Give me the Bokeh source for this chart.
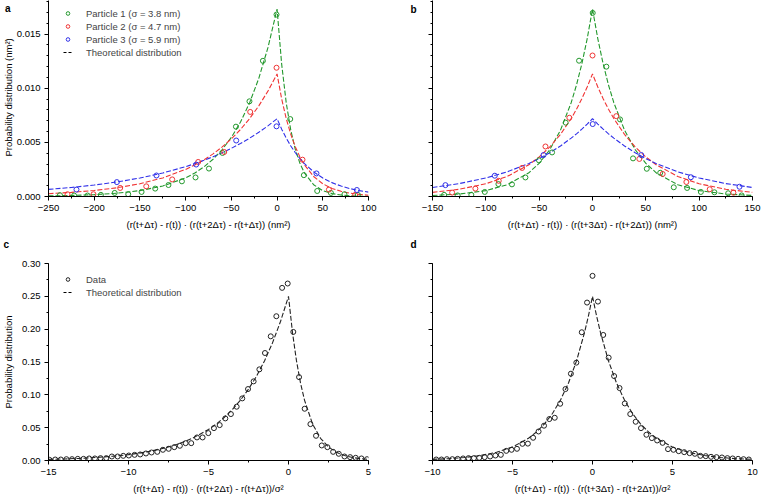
import numpy as np
from bokeh.plotting import figure
from bokeh.layouts import column, row
from bokeh.models import FixedTicker, Legend, LegendItem, Range1d, Title, LinearAxis
from bokeh.embed import file_html
from bokeh.resources import INLINE

FONT = "Liberation Sans"
GREEN, RED, BLUE = "#22982c", "#f03434", "#3030e8"

# ---------------- data ----------------
# Panel a: adjacent displacements, three particles (nm^2)
a_p1_x = [-237.5, -222.0, -207.3, -192.7, -177.6, -162.8, -148.2, -133.3, -118.8, -104.1, -89.2, -74.5,
          -59.7, -45.0, -30.2, -15.5, -0.6, 14.4, 29.3, 43.9, 58.9, 73.7, 88.4]
a_p1_y = [0.00012, 0.00009, 0.00009, 0.00015, 0.00033, 0.00021, 0.00042, 0.00073, 0.00106, 0.00140, 0.00176,
          0.00258, 0.00402, 0.00645, 0.00879, 0.01253, 0.01680, 0.00715, 0.00197, 0.00051, 0.00033, 0.00021, 0.00015]
a_p2_x = [-229.2, -200.8, -171.6, -143.1, -114.7, -86.3, -57.8, -29.4, -0.6, 27.8, 56.7, 85.4]
a_p2_y = [0.00021, 0.00021, 0.00079, 0.00094, 0.00158, 0.00319, 0.00411, 0.00781, 0.01189, 0.00340, 0.00064, 0.00015]
a_p3_x = [-219.4, -175.2, -131.9, -88.5, -44.7, -0.6, 43.1, 87.3]
a_p3_y = [0.00064, 0.00133, 0.00194, 0.00295, 0.00517, 0.00648, 0.00213, 0.00060]

a_curve_x = [-250, -225, -200, -175, -150, -125, -100, -90, -80, -70, -60, -50, -40, -30, -20, -10, 0,
             5, 10, 15, 20, 25, 30, 40, 50, 60, 70, 80, 90, 100]
a_curve_p1 = [0.000054, 0.000096, 0.000171, 0.000305, 0.000543, 0.000966, 0.001722, 0.002167, 0.002731, 0.003440,
              0.004333, 0.005458, 0.006876, 0.008661, 0.010909, 0.013743, 0.017310,
              0.012244, 0.008661, 0.006126, 0.004333, 0.003065, 0.002168, 0.001085, 0.000543, 0.000271,
              0.000136, 0.000068, 0.000034, 0.000017]
a_curve_p2 = [0.000260, 0.000380, 0.000553, 0.000807, 0.001177, 0.001716, 0.002503, 0.002911, 0.003385, 0.003936,
              0.004577, 0.005322, 0.006189, 0.007197, 0.008370, 0.009733, 0.011318,
              0.009025, 0.007197, 0.005740, 0.004577, 0.003650, 0.002911, 0.001851, 0.001177, 0.000748,
              0.000476, 0.000303, 0.000193, 0.000122]
a_curve_p3 = [0.000655, 0.000833, 0.001058, 0.001344, 0.001708, 0.002170, 0.002757, 0.003034, 0.003339, 0.003674,
              0.004043, 0.004450, 0.004897, 0.005389, 0.005930, 0.006526, 0.007182,
              0.006221, 0.005389, 0.004668, 0.004043, 0.003502, 0.003034, 0.002276, 0.001708, 0.001281,
              0.000961, 0.000721, 0.000541, 0.000406]

# Panel b: non-adjacent displacements (nm^2)
b_p1_x = [-139.1, -126.4, -113.6, -101.0, -88.2, -75.5, -62.9, -50.2, -37.9, -25.1, -12.6, 0.2, 13.0, 25.8,
          38.0, 50.9, 63.5, 76.2, 88.7, 101.6, 114.3, 127.2, 139.8]
b_p1_y = [0.00015, 0.00010, 0.00015, 0.00042, 0.00115, 0.00112, 0.00176, 0.00334, 0.00407, 0.00682, 0.01254,
          0.01695, 0.01199, 0.00712, 0.00352, 0.00256, 0.00219, 0.00085, 0.00079, 0.00042, 0.00039, 0.00030, 0.00010]
b_p2_x = [-131.6, -109.8, -87.9, -66.0, -44.1, -21.7, 0.0, 22.3, 43.9, 65.8, 88.0, 109.9, 132.1]
b_p2_y = [0.00036, 0.00073, 0.00145, 0.00264, 0.00462, 0.00727, 0.01302, 0.00742, 0.00347, 0.00208, 0.00134,
          0.00067, 0.00035]
b_p3_x = [-137.9, -91.6, -45.9, 0.2, 45.7, 92.2, 137.8]
b_p3_y = [0.00105, 0.00192, 0.00383, 0.00669, 0.00383, 0.00178, 0.00090]

b_curve_x = [-150, -125, -100, -80, -60, -50, -40, -30, -20, -15, -10, -5, 0,
             5, 10, 15, 20, 30, 40, 50, 60, 80, 100, 125, 150]
b_curve_p1 = [0.000096, 0.000228, 0.000543, 0.001085, 0.002167, 0.003065, 0.004333, 0.006126, 0.008661, 0.010298,
              0.012244, 0.014558, 0.017310, 0.014558, 0.012244, 0.010298, 0.008661, 0.006126, 0.004333, 0.003065,
              0.002167, 0.001085, 0.000543, 0.000228, 0.000096]
b_curve_p2 = [0.000380, 0.000668, 0.001177, 0.001851, 0.002911, 0.003650, 0.004577, 0.005740, 0.007197, 0.008060,
              0.009025, 0.010107, 0.011318, 0.010107, 0.009025, 0.008060, 0.007197, 0.005740, 0.004577, 0.003650,
              0.002911, 0.001851, 0.001177, 0.000668, 0.000380]
b_curve_p3 = [0.000833, 0.001193, 0.001708, 0.002276, 0.003034, 0.003502, 0.004043, 0.004668, 0.005389, 0.005790,
              0.006221, 0.006684, 0.007182, 0.006684, 0.006221, 0.005790, 0.005389, 0.004668, 0.004043, 0.003502,
              0.003034, 0.002276, 0.001708, 0.001193, 0.000833]

# Panel c: adjacent displacements, pooled and normalised by sigma^2
c_x = [-14.94, -14.58, -14.23, -13.88, -13.53, -13.17, -12.81, -12.46, -12.10, -11.75, -11.39, -11.04, -10.68,
       -10.33, -9.98, -9.62, -9.27, -8.91, -8.56, -8.20, -7.85, -7.49, -7.14, -6.79, -6.43, -6.08, -5.72, -5.37,
       -5.01, -4.66, -4.30, -3.95, -3.60, -3.24, -2.89, -2.53, -2.18, -1.82, -1.47, -1.11, -0.76, -0.40, -0.05,
       0.30, 0.66, 1.01, 1.37, 1.72, 2.08, 2.43, 2.79, 3.14, 3.50, 3.85, 4.20, 4.56, 4.91]
c_y = [0.0010, 0.0015, 0.0015, 0.0020, 0.0020, 0.0025, 0.0025, 0.0031, 0.0031, 0.0036, 0.0036, 0.0061, 0.0061,
       0.0071, 0.0076, 0.0086, 0.0092, 0.0107, 0.0122, 0.0132, 0.0163, 0.0178, 0.0203, 0.0224, 0.0264, 0.0264,
       0.0351, 0.0351, 0.0417, 0.0493, 0.0539, 0.0641, 0.0707, 0.0819, 0.0946, 0.1088, 0.1205, 0.1388, 0.1637,
       0.1891, 0.2197, 0.2629, 0.2695, 0.1958, 0.1270, 0.0788, 0.0554, 0.0376, 0.0229, 0.0203, 0.0132, 0.0102,
       0.0061, 0.0051, 0.0041, 0.0031, 0.0020]
c_curve_x = [-15, -14, -13, -12, -11, -10, -9, -8, -7, -6, -5, -4.5, -4, -3.5, -3, -2.5, -2, -1.5, -1, -0.5, 0,
             0.25, 0.5, 0.75, 1, 1.5, 2, 2.5, 3, 3.5, 4, 4.5, 5]
c_curve_y = [0.001684, 0.002351, 0.003281, 0.004579, 0.006390, 0.008918, 0.012447, 0.017371, 0.024243, 0.033834,
             0.047219, 0.055783, 0.065899, 0.077851, 0.091970, 0.108650, 0.128354, 0.151633, 0.179133, 0.211620,
             0.250000, 0.194700, 0.151633, 0.118092, 0.091970, 0.055783, 0.033834, 0.020521, 0.012447, 0.007549,
             0.004579, 0.002777, 0.001684]

# Panel d: non-adjacent displacements, pooled and normalised by sigma^2
d_x = [-9.77, -9.44, -9.10, -8.76, -8.43, -8.09, -7.75, -7.41, -7.08, -6.74, -6.40, -6.07, -5.73, -5.39, -5.06,
       -4.72, -4.38, -4.04, -3.71, -3.37, -3.03, -2.70, -2.36, -2.02, -1.69, -1.35, -1.01, -0.67, -0.34, 0.0,
       0.34, 0.67, 1.01, 1.35, 1.69, 2.02, 2.36, 2.70, 3.03, 3.37, 3.71, 4.04, 4.38, 4.72, 5.06, 5.39, 5.73,
       6.07, 6.40, 6.74, 7.08, 7.41, 7.75, 8.09, 8.43, 8.76, 9.10, 9.44, 9.77]
d_y = [0.0015, 0.0015, 0.0020, 0.0020, 0.0025, 0.0031, 0.0036, 0.0036, 0.0041, 0.0051, 0.0061, 0.0076, 0.0086,
       0.0147, 0.0163, 0.0178, 0.0254, 0.0257, 0.0346, 0.0442, 0.0530, 0.0631, 0.0651, 0.0864, 0.1088, 0.1322,
       0.1490, 0.1953, 0.2405, 0.2812, 0.2420, 0.1912, 0.1566, 0.1286, 0.1103, 0.0869, 0.0707, 0.0590, 0.0493,
       0.0392, 0.0341, 0.0305, 0.0269, 0.0173, 0.0163, 0.0142, 0.0127, 0.0112, 0.0102, 0.0071, 0.0066, 0.0056,
       0.0051, 0.0046, 0.0036, 0.0031, 0.0025, 0.0020, 0.0015]
d_curve_x = [-10, -9, -8, -7, -6, -5, -4, -3.5, -3, -2.5, -2, -1.5, -1, -0.5, -0.25, 0,
             0.25, 0.5, 1, 1.5, 2, 2.5, 3, 3.5, 4, 5, 6, 7, 8, 9, 10]
d_curve_y = [0.001684, 0.002777, 0.004579, 0.007549, 0.012447, 0.020521, 0.033834, 0.043443, 0.055783, 0.071626,
             0.091970, 0.118092, 0.151633, 0.194700, 0.220624, 0.250000, 0.220624, 0.194700, 0.151633, 0.118092,
             0.091970, 0.071626, 0.055783, 0.043443, 0.033834, 0.020521, 0.012447, 0.007549, 0.004579, 0.002777,
             0.001684]

# tick labels
a_xticks = [-250, -200, -150, -100, -50, 0, 50, 100]
a_xlabels = ["\u2212250", "\u2212200", "\u2212150", "\u2212100", "\u221250", "0", "50", "100"]
b_xticks = [-150, -100, -50, 0, 50, 100, 150]
b_xlabels = ["\u2212150", "\u2212100", "\u221250", "0", "50", "100", "150"]
ab_yticks = [0.0, 0.005, 0.01, 0.015]
ab_ylabels = ["0.000", "0.005", "0.010", "0.015"]
c_xticks = [-15, -10, -5, 0, 5]
c_xlabels = ["\u221215", "\u221210", "\u22125", "0", "5"]
d_xticks = [-10, -5, 0, 5, 10]
d_xlabels = ["\u221210", "\u22125", "0", "5", "10"]
cd_yticks = [0.0, 0.05, 0.10, 0.15, 0.20, 0.25, 0.30]
cd_ylabels = ["0.00", "0.05", "0.10", "0.15", "0.20", "0.25", "0.30"]

legend_a = ["Particle 1 (\u03c3 = 3.8 nm)", "Particle 2 (\u03c3 = 4.7 nm)", "Particle 3 (\u03c3 = 5.9 nm)",
            "Theoretical distribution"]
legend_c = ["Data", "Theoretical distribution"]

X_TITLE_A = "(r(t+\u0394\u03c4) - r(t)) \u00b7 (r(t+2\u0394\u03c4) - r(t+\u0394\u03c4)) (nm\u00b2)"
X_TITLE_B = "(r(t+\u0394\u03c4) - r(t)) \u00b7 (r(t+3\u0394\u03c4) - r(t+2\u0394\u03c4)) (nm\u00b2)"
X_TITLE_C = "(r(t+\u0394\u03c4) - r(t)) \u00b7 (r(t+2\u0394\u03c4) - r(t+\u0394\u03c4))/\u03c3\u00b2"
X_TITLE_D = "(r(t+\u0394\u03c4) - r(t)) \u00b7 (r(t+3\u0394\u03c4) - r(t+2\u0394\u03c4))/\u03c3\u00b2"
Y_TITLE_A = "Probability distribution (nm\u00b2)"
Y_TITLE_C = "Probability distribution"


def make_fig(width, height, xr, yr, left, right, top, bottom):
    p = figure(width=width, height=height, x_range=Range1d(*xr), y_range=Range1d(*yr),
               output_backend="svg", toolbar_location=None,
               min_border_left=left, min_border_right=right, min_border_top=top, min_border_bottom=bottom)
    p.grid.visible = False
    p.outline_line_color = None
    p.background_fill_color = "white"
    p.border_fill_color = "white"
    for ax in (p.xaxis[0], p.yaxis[0]):
        ax.axis_line_color = "black"
        ax.axis_line_width = 1
        ax.major_tick_line_color = "black"
        ax.minor_tick_line_color = "black"
        ax.major_tick_out = 4
        ax.major_tick_in = 0
        ax.minor_tick_out = 2
        ax.minor_tick_in = 0
        ax.major_label_text_font = FONT
        ax.major_label_text_font_size = "9.5px"
        ax.major_label_text_color = "black"
        ax.major_label_standoff = 4
        ax.axis_label_text_font = FONT
        ax.axis_label_text_font_size = "9.5px"
        ax.axis_label_text_font_style = "normal"
        ax.axis_label_text_color = "black"
        ax.axis_label_standoff = 5
    return p


def set_ticks(axis, ticks, minor, labels):
    axis.ticker = FixedTicker(ticks=ticks, minor_ticks=minor)
    axis.major_label_overrides = dict(zip(ticks, labels))


def letter_axis(letter, at, standoff):
    # bare outer axis that only carries the bold panel letter beside the top of the frame
    return LinearAxis(ticker=FixedTicker(ticks=[at], minor_ticks=[]),
                      major_label_overrides={at: letter}, axis_line_color=None,
                      major_tick_line_color=None, minor_tick_line_color=None,
                      major_tick_out=0, major_tick_in=0, minor_tick_out=0, minor_tick_in=0,
                      major_label_text_font=FONT, major_label_text_font_size="10px",
                      major_label_text_font_style="bold", major_label_text_color="black",
                      major_label_standoff=standoff)


def letter_below(letter, offset):
    # panel letter for the lower row, hung under the upper row's axis title
    return Title(text=letter, align="left", offset=offset, vertical_align="top", standoff=13,
                 text_font=FONT, text_font_size="10px", text_font_style="bold", text_color="black")


DASH = "5 2"
ab_minor_y = list(np.round(np.arange(0, 0.0185, 0.001), 4))


def legend_for(items, loc):
    return Legend(items=items, location=loc, border_line_color=None, background_fill_alpha=0,
                  label_text_font=FONT, label_text_font_size="9.5px", glyph_width=9, glyph_height=12,
                  label_height=12, label_standoff=14, spacing=1, padding=0, margin=0)


# ---------------- panel a ----------------
pa = make_fig(380, 258, (-250, 100), (0, 0.0181), 48, 12, 0, 60)
set_ticks(pa.xaxis[0], a_xticks, list(range(-250, 101, 25)), a_xlabels)
set_ticks(pa.yaxis[0], ab_yticks, ab_minor_y, ab_ylabels)
pa.xaxis.axis_label = X_TITLE_A
for cy, col in ((a_curve_p1, GREEN), (a_curve_p2, RED), (a_curve_p3, BLUE)):
    pa.line(a_curve_x, cy, line_color=col, line_width=1.1, line_dash=DASH)
ra1 = pa.scatter(a_p1_x, a_p1_y, marker="circle", size=5, fill_color=None, line_color=GREEN, line_width=1)
ra2 = pa.scatter(a_p2_x, a_p2_y, marker="circle", size=5, fill_color=None, line_color=RED, line_width=1)
ra3 = pa.scatter(a_p3_x, a_p3_y, marker="circle", size=5, fill_color=None, line_color=BLUE, line_width=1)
# legend key for the dashed theory curves (kept outside the visible range)
ra4 = pa.line([-400, -390], [0.01, 0.01], line_color="black", line_width=1, line_dash="3 2")
pa.add_layout(legend_for([LegendItem(label=t, renderers=[r]) for t, r in zip(legend_a, [ra1, ra2, ra3, ra4])],
                         (15, 138)))
pa.add_layout(Title(text=Y_TITLE_A, align="left", offset=40, text_font=FONT, text_font_size="9.5px",
                    text_font_style="normal", text_color="black", standoff=0), "left")
# outermost letter axis; the negative standoff pulls the letter back over the title column
pa.add_layout(letter_axis("a", 0.0178, -10), "left")
pa.add_layout(letter_below("c", -45), "below")

# ---------------- panel b ----------------
pb = make_fig(381, 258, (-150, 150), (0, 0.0181), 52, 9, 0, 60)
set_ticks(pb.xaxis[0], b_xticks, list(range(-150, 151, 25)), b_xlabels)
set_ticks(pb.yaxis[0], ab_yticks, ab_minor_y, ["" for _ in ab_yticks])
pb.xaxis.axis_label = X_TITLE_B
for cy, col in ((b_curve_p1, GREEN), (b_curve_p2, RED), (b_curve_p3, BLUE)):
    pb.line(b_curve_x, cy, line_color=col, line_width=1.1, line_dash=DASH)
pb.scatter(b_p1_x, b_p1_y, marker="circle", size=5, fill_color=None, line_color=GREEN, line_width=1)
pb.scatter(b_p2_x, b_p2_y, marker="circle", size=5, fill_color=None, line_color=RED, line_width=1)
pb.scatter(b_p3_x, b_p3_y, marker="circle", size=5, fill_color=None, line_color=BLUE, line_width=1)
pb.add_layout(letter_axis("b", 0.0179, 12), "left")
pb.add_layout(letter_below("d", -22), "below")

cd_minor_y = list(np.round(np.arange(0, 0.301, 0.025), 3))

# ---------------- panel c ----------------
pc = make_fig(380, 238, (-15, 5), (0, 0.30), 48, 12, 5, 36)
set_ticks(pc.xaxis[0], c_xticks, list(np.arange(-15, 5.1, 2.5)), c_xlabels)
set_ticks(pc.yaxis[0], cd_yticks, cd_minor_y, cd_ylabels)
pc.xaxis.axis_label = X_TITLE_C
pc.yaxis.axis_label = Y_TITLE_C
pc.line(c_curve_x, c_curve_y, line_color="#222222", line_width=1.1, line_dash=DASH)
rc1 = pc.scatter(c_x, c_y, marker="circle", size=5, fill_color=None, line_color="#222222", line_width=1)
rc2 = pc.line([-40, -39], [0.1, 0.1], line_color="black", line_width=1, line_dash="3 2")
pc.add_layout(legend_for([LegendItem(label=t, renderers=[r]) for t, r in zip(legend_c, [rc1, rc2])], (15, 162)))

# ---------------- panel d ----------------
pd_ = make_fig(381, 238, (-10, 10), (0, 0.30), 52, 9, 5, 36)
set_ticks(pd_.xaxis[0], d_xticks, list(np.arange(-10, 10.1, 2.5)), d_xlabels)
set_ticks(pd_.yaxis[0], cd_yticks, cd_minor_y, ["" for _ in cd_yticks])
pd_.xaxis.axis_label = X_TITLE_D
pd_.line(d_curve_x, d_curve_y, line_color="#222222", line_width=1.1, line_dash=DASH)
pd_.scatter(d_x, d_y, marker="circle", size=5, fill_color=None, line_color="#222222", line_width=1)

layout = column(row(pa, pb), row(pc, pd_))
open("out.html", "w").write(file_html(layout, INLINE))
